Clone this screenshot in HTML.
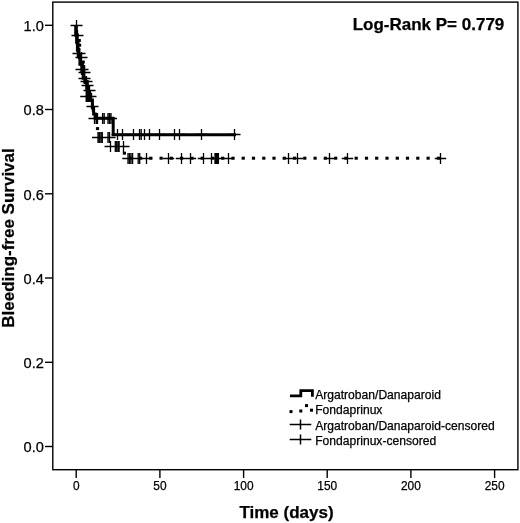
<!DOCTYPE html>
<html><head><meta charset="utf-8"><title>Bleeding-free Survival</title>
<style>
html,body{margin:0;padding:0;background:#fff}
svg{display:block}
text{font-family:"Liberation Sans",Arial,Helvetica,sans-serif;fill:#000;stroke:#000;stroke-width:.25px}
.tky{font-size:14.6px}
.tkx{font-size:11.9px}
.lg{font-size:12.1px}
.b{font-weight:bold;font-size:17px}
.ax{stroke:#000;stroke-width:1.4;fill:none}
.c{stroke:#000;stroke-width:1.3;fill:none}
.s{stroke:#000;stroke-width:3;fill:none;stroke-linejoin:miter}
.s4{stroke:#000;stroke-width:3.6;fill:none;stroke-linejoin:miter}
.d{fill:#000}
</style></head><body>
<svg width="520" height="523" viewBox="0 0 520 523">
<rect x="0" y="0" width="520" height="523" fill="#fff"/>
<rect class="ax" x="52.8" y="2.1" width="465.09999999999997" height="467.59999999999997"/>

<line class="ax" x1="45" y1="446.5" x2="52.8" y2="446.5"/>
<text class="tky" x="43.9" y="452.2" text-anchor="end">0.0</text>
<line class="ax" x1="45" y1="362.3" x2="52.8" y2="362.3"/>
<text class="tky" x="43.9" y="368.0" text-anchor="end">0.2</text>
<line class="ax" x1="45" y1="278.0" x2="52.8" y2="278.0"/>
<text class="tky" x="43.9" y="283.7" text-anchor="end">0.4</text>
<line class="ax" x1="45" y1="193.8" x2="52.8" y2="193.8"/>
<text class="tky" x="43.9" y="199.5" text-anchor="end">0.6</text>
<line class="ax" x1="45" y1="109.5" x2="52.8" y2="109.5"/>
<text class="tky" x="43.9" y="115.2" text-anchor="end">0.8</text>
<line class="ax" x1="45" y1="25.3" x2="52.8" y2="25.3"/>
<text class="tky" x="43.9" y="31.0" text-anchor="end">1.0</text>
<line class="ax" x1="76.2" y1="469.7" x2="76.2" y2="478"/>
<text class="tkx" x="76.2" y="489.6" text-anchor="middle">0</text>
<line class="ax" x1="159.9" y1="469.7" x2="159.9" y2="478"/>
<text class="tkx" x="159.9" y="489.6" text-anchor="middle">50</text>
<line class="ax" x1="243.6" y1="469.7" x2="243.6" y2="478"/>
<text class="tkx" x="243.6" y="489.6" text-anchor="middle">100</text>
<line class="ax" x1="327.2" y1="469.7" x2="327.2" y2="478"/>
<text class="tkx" x="327.2" y="489.6" text-anchor="middle">150</text>
<line class="ax" x1="410.9" y1="469.7" x2="410.9" y2="478"/>
<text class="tkx" x="410.9" y="489.6" text-anchor="middle">200</text>
<line class="ax" x1="494.6" y1="469.7" x2="494.6" y2="478"/>
<text class="tkx" x="494.6" y="489.6" text-anchor="middle">250</text>
<text class="b" x="286.5" y="517.7" text-anchor="middle">Time (days)</text>
<text class="b" transform="translate(14.3,238) rotate(-90)" text-anchor="middle">Bleeding-free Survival</text>
<text class="b" x="504.3" y="30.1" text-anchor="end">Log-Rank P= 0.779</text>
<path class="s4" d="M76,25V35H76.9V42H77.7V50H78.6V56H80.2V64H82.1V71H83.5V78H85.2V82H87V88H88.1V93H90.7"/>
<path class="s" d="M90.7,93V100H92.4V108H93.6V114H95.2V118.2H95.5"/>
<path class="s" d="M94,118.2 H113.2 V134.8 H236"/>
<path class="c" d="M70.5,25.5H82.5M76.5,20.0V31.0M71.5,35.5H83.5M77.5,30.0V41.0M72.5,53.5H84.5M78.5,48.0V59.0M73.5,53.5H85.5M79.5,48.0V59.0M75.5,57.5H87.5M81.5,52.0V63.0M75.5,69.5H87.5M81.5,64.0V75.0M76.5,69.5H88.5M82.5,64.0V75.0M78.5,72.5H90.5M84.5,67.0V78.0M78.5,78.5H90.5M84.5,73.0V84.0M80.5,81.5H92.5M86.5,76.0V87.0M81.5,85.5H93.5M87.5,80.0V91.0M83.5,90.5H95.5M89.5,85.0V96.0M80.5,96.5H92.5M86.5,91.0V102.0M84.5,96.5H96.5M90.5,91.0V102.0M86.5,106.5H98.5M92.5,101.0V112.0M88.5,118.5H100.5M94.5,113.0V124.0M80.2,96.5H92.2M86.2,91.0V102.0M81.5,96.5H93.5M87.5,91.0V102.0M82.8,96.5H94.8M88.8,91.0V102.0M84.0,96.5H96.0M90.0,91.0V102.0M88.6,118.5H100.6M94.6,113.0V124.0M90.3,118.5H102.3M96.3,113.0V124.0M91.5,118.5H103.5M97.5,113.0V124.0M96.6,118.5H108.6M102.6,113.0V124.0M98.2,118.5H110.2M104.2,113.0V124.0M102.0,118.5H114.0M108.0,113.0V124.0M103.5,118.5H115.5M109.5,113.0V124.0M105.0,118.5H117.0M111.0,113.0V124.0M111.5,134.5H123.5M117.5,129.0V140.0M116.5,134.5H128.5M122.5,129.0V140.0M127.5,134.5H139.5M133.5,129.0V140.0M133.5,134.5H145.5M139.5,129.0V140.0M135.2,134.5H147.2M141.2,129.0V140.0M138.5,134.5H150.5M144.5,129.0V140.0M143.5,134.5H155.5M149.5,129.0V140.0M153.5,134.5H165.5M159.5,129.0V140.0M168.5,134.5H180.5M174.5,129.0V140.0M173.5,134.5H185.5M179.5,129.0V140.0M195.5,134.5H207.5M201.5,129.0V140.0M228.5,134.5H240.5M234.5,129.0V140.0M92.0,137.5H104.0M98.0,132.0V143.0M93.4,137.5H105.4M99.4,132.0V143.0M94.9,137.5H106.9M100.9,132.0V143.0M96.3,137.5H108.3M102.3,132.0V143.0M102.0,137.5H114.0M108.0,132.0V143.0M103.5,137.5H115.5M109.5,132.0V143.0M104.5,146.5H116.5M110.5,141.0V152.0M109.3,146.5H121.3M115.3,141.0V152.0M110.7,146.5H122.7M116.7,141.0V152.0M112.2,146.5H124.2M118.2,141.0V152.0M113.1,146.5H125.1M119.1,141.0V152.0M117.5,146.5H129.5M123.5,141.0V152.0M122.3,158.5H133.7M128.0,152.9V164.1M123.8,158.5H135.2M129.5,152.9V164.1M125.3,158.5H136.7M131.0,152.9V164.1M126.9,158.5H138.3M132.6,152.9V164.1M132.5,158.5H143.9M138.2,152.9V164.1M134.0,158.5H145.4M139.7,152.9V164.1M140.8,158.5H152.2M146.5,152.9V164.1M162.8,158.5H174.2M168.5,152.9V164.1M175.8,158.5H187.2M181.5,152.9V164.1M184.8,158.5H196.2M190.5,152.9V164.1M197.8,158.5H209.2M203.5,152.9V164.1M205.8,158.5H217.2M211.5,152.9V164.1M209.3,158.5H220.7M215.0,152.9V164.1M210.4,158.5H221.8M216.1,152.9V164.1M211.6,158.5H223.0M217.3,152.9V164.1M212.7,158.5H224.1M218.4,152.9V164.1M222.8,158.5H234.2M228.5,152.9V164.1M282.8,158.5H294.2M288.5,152.9V164.1M291.8,158.5H303.2M297.5,152.9V164.1M323.8,158.5H335.2M329.5,152.9V164.1M341.8,158.5H353.2M347.5,152.9V164.1M434.8,158.5H446.2M440.5,152.9V164.1"/>
<rect class="d" x="95.9" y="127.1" width="3.2" height="3"/>
<rect class="d" x="122.8" y="151.7" width="3.2" height="3"/>
<rect class="d" x="77.6" y="39.0" width="3.2" height="3"/>
<rect class="d" x="78.0" y="43.7" width="3.2" height="3"/>
<rect class="d" x="81.6" y="60.5" width="3.2" height="3"/>
<rect class="d" x="82.0" y="65.0" width="3.2" height="3"/>
<rect class="d" x="128.7" y="156.7" width="3.2" height="3"/>
<rect class="d" x="138.9" y="156.7" width="3.2" height="3"/>
<rect class="d" x="149.2" y="156.7" width="3.2" height="3"/>
<rect class="d" x="159.5" y="156.7" width="3.2" height="3"/>
<rect class="d" x="169.7" y="156.7" width="3.2" height="3"/>
<rect class="d" x="180.0" y="156.7" width="3.2" height="3"/>
<rect class="d" x="190.3" y="156.7" width="3.2" height="3"/>
<rect class="d" x="200.6" y="156.7" width="3.2" height="3"/>
<rect class="d" x="210.8" y="156.7" width="3.2" height="3"/>
<rect class="d" x="221.1" y="156.7" width="3.2" height="3"/>
<rect class="d" x="231.4" y="156.7" width="3.2" height="3"/>
<rect class="d" x="241.6" y="156.7" width="3.2" height="3"/>
<rect class="d" x="251.9" y="156.7" width="3.2" height="3"/>
<rect class="d" x="262.2" y="156.7" width="3.2" height="3"/>
<rect class="d" x="272.4" y="156.7" width="3.2" height="3"/>
<rect class="d" x="282.7" y="156.7" width="3.2" height="3"/>
<rect class="d" x="293.0" y="156.7" width="3.2" height="3"/>
<rect class="d" x="303.2" y="156.7" width="3.2" height="3"/>
<rect class="d" x="313.5" y="156.7" width="3.2" height="3"/>
<rect class="d" x="323.8" y="156.7" width="3.2" height="3"/>
<rect class="d" x="334.1" y="156.7" width="3.2" height="3"/>
<rect class="d" x="344.3" y="156.7" width="3.2" height="3"/>
<rect class="d" x="354.6" y="156.7" width="3.2" height="3"/>
<rect class="d" x="364.9" y="156.7" width="3.2" height="3"/>
<rect class="d" x="375.1" y="156.7" width="3.2" height="3"/>
<rect class="d" x="385.4" y="156.7" width="3.2" height="3"/>
<rect class="d" x="395.7" y="156.7" width="3.2" height="3"/>
<rect class="d" x="405.9" y="156.7" width="3.2" height="3"/>
<rect class="d" x="416.2" y="156.7" width="3.2" height="3"/>
<rect class="d" x="426.5" y="156.7" width="3.2" height="3"/>
<rect class="d" x="436.8" y="156.7" width="3.2" height="3"/>
<path d="M290,395.8H300.8V390.6H312.4V396.8" stroke="#000" stroke-width="2.8" fill="none"/>
<rect class="d" x="289.5" y="410.1" width="3" height="3"/>
<rect class="d" x="299.3" y="409.5" width="3" height="3"/>
<rect class="d" x="305.0" y="404.1" width="3" height="3"/>
<rect class="d" x="310.0" y="408.7" width="3" height="3"/>
<path class="c" style="stroke-width:1.5" d="M289.7,424.5H311.3M300.5,419.5V429.5M289.7,439.5H311.3M300.5,434.5V444.5"/>
<text class="lg" x="315.2" y="398.8">Argatroban/Danaparoid</text>
<text class="lg" x="315.2" y="414.2">Fondaprinux</text>
<text class="lg" x="315.2" y="429.6">Argatroban/Danaparoid-censored</text>
<text class="lg" x="315.2" y="445.0">Fondaprinux-censored</text>
</svg></body></html>
